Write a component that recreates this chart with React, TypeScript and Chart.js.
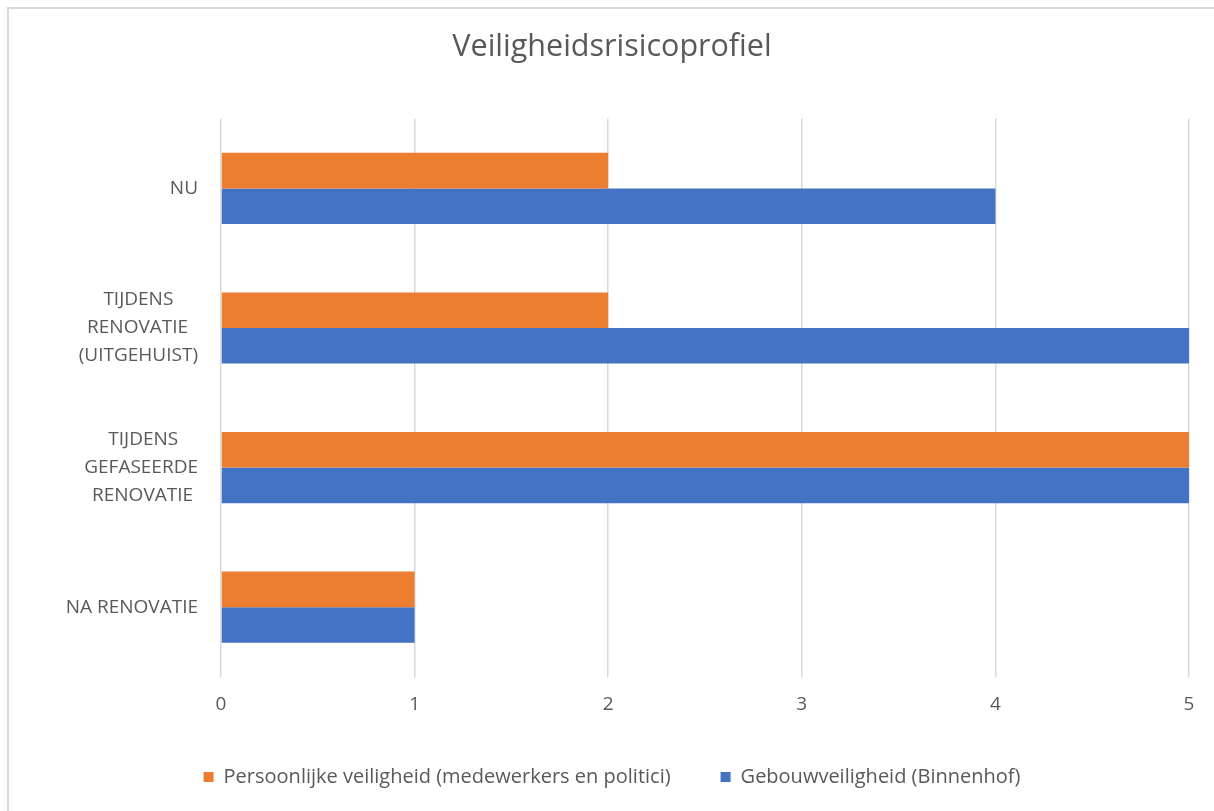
import React, { useEffect, useRef } from "react";
import { Chart, registerables } from "chart.js";

Chart.register(...registerables);

const titleText = "Veiligheidsrisicoprofiel";
const categories: string[][] = [
  ["NU"],
  ["TIJDENS", "RENOVATIE", "(UITGEHUIST)"],
  ["TIJDENS", "GEFASEERDE", "RENOVATIE"],
  ["NA RENOVATIE"],
];
const seriesNames = [
  "Persoonlijke veiligheid (medewerkers en politici)",
  "Gebouwveiligheid (Binnenhof)",
];
const persoonlijkeValues = [2, 2, 5, 1];
const gebouwValues = [4, 5, 5, 1];
const xTickValues = [0, 1, 2, 3, 4, 5];

const FAMILY = "'Open Sans', sans-serif";
const TEXT = "#595959";
const GRID = "#d9d9d9";
const ORANGE = "#ED7D31";
const BLUE = "#4472C4";

function centerLines(lines: string[], font: string): string | string[] {
  if (lines.length === 1) return lines[0];
  const ctx = document.createElement("canvas").getContext("2d")!;
  ctx.font = font;
  const widths = lines.map((l) => ctx.measureText(l).width);
  const max = Math.max(...widths);
  const sp = ctx.measureText(" ").width || 5;
  return lines.map((l, i) => l + " ".repeat(Math.round((max - widths[i]) / 2 / sp)));
}

export default function App() {
  const ref = useRef<HTMLCanvasElement | null>(null);

  useEffect(() => {
    if (!ref.current) return;
    const labels = categories.map((c) => centerLines(c, `19px ${FAMILY}`));
    const chart = new Chart(ref.current, {
      type: "bar",
      data: {
        labels,
        datasets: [
          {
            label: seriesNames[0],
            data: persoonlijkeValues,
            backgroundColor: ORANGE,
            borderWidth: 0,
            barPercentage: 1,
            categoryPercentage: 0.51,
          },
          {
            label: seriesNames[1],
            data: gebouwValues,
            backgroundColor: BLUE,
            borderWidth: 0,
            barPercentage: 1,
            categoryPercentage: 0.51,
          },
        ],
      },
      options: {
        indexAxis: "y",
        responsive: false,
        animation: false,
        layout: { padding: { left: 35, right: 25, top: 0, bottom: 14 } },
        plugins: {
          title: {
            display: true,
            text: titleText,
            color: TEXT,
            font: { family: FAMILY, size: 30.5, weight: "normal", lineHeight: 1.2 },
            padding: { top: 29, bottom: 53 },
          },
          legend: {
            position: "bottom",
            labels: {
              boxWidth: 10,
              boxHeight: 10,
              padding: 50,
              color: TEXT,
              font: { family: FAMILY, size: 20 },
            },
          },
          tooltip: { enabled: false },
        },
        scales: {
          x: {
            min: 0,
            max: 5,
            afterBuildTicks: (s: any) => {
              s.ticks = xTickValues.map((v) => ({ value: v }));
            },
            ticks: {
              color: TEXT,
              font: { family: FAMILY, size: 19, lineHeight: 1.2 },
              padding: 16,
            },
            grid: { color: GRID, lineWidth: 1.5, drawTicks: false },
            border: { display: false },
            afterFit: (s: any) => {
              s.height = 40;
            },
          },
          y: {
            ticks: {
              color: TEXT,
              font: { family: FAMILY, size: 19, lineHeight: 1.47 },
              padding: 23,
            },
            grid: { display: false, drawTicks: false },
            border: { display: false },
            afterFit: (s: any) => {
              s.width = 186;
            },
          },
        },
      },
    });
    return () => chart.destroy();
  }, []);

  return (
    <div style={{ position: "fixed", left: 0, top: 0, width: 1214, height: 811, background: "#fff", overflow: "hidden" }}>
      <div
        style={{
          position: "absolute",
          left: 7,
          top: 7,
          width: 2000,
          height: 2000,
          borderLeft: `2px solid ${GRID}`,
          borderTop: `2px solid ${GRID}`,
        }}
      />
      <canvas ref={ref} width={1214} height={811} style={{ position: "absolute", left: 0, top: 0, display: "block" }} />
    </div>
  );
}
